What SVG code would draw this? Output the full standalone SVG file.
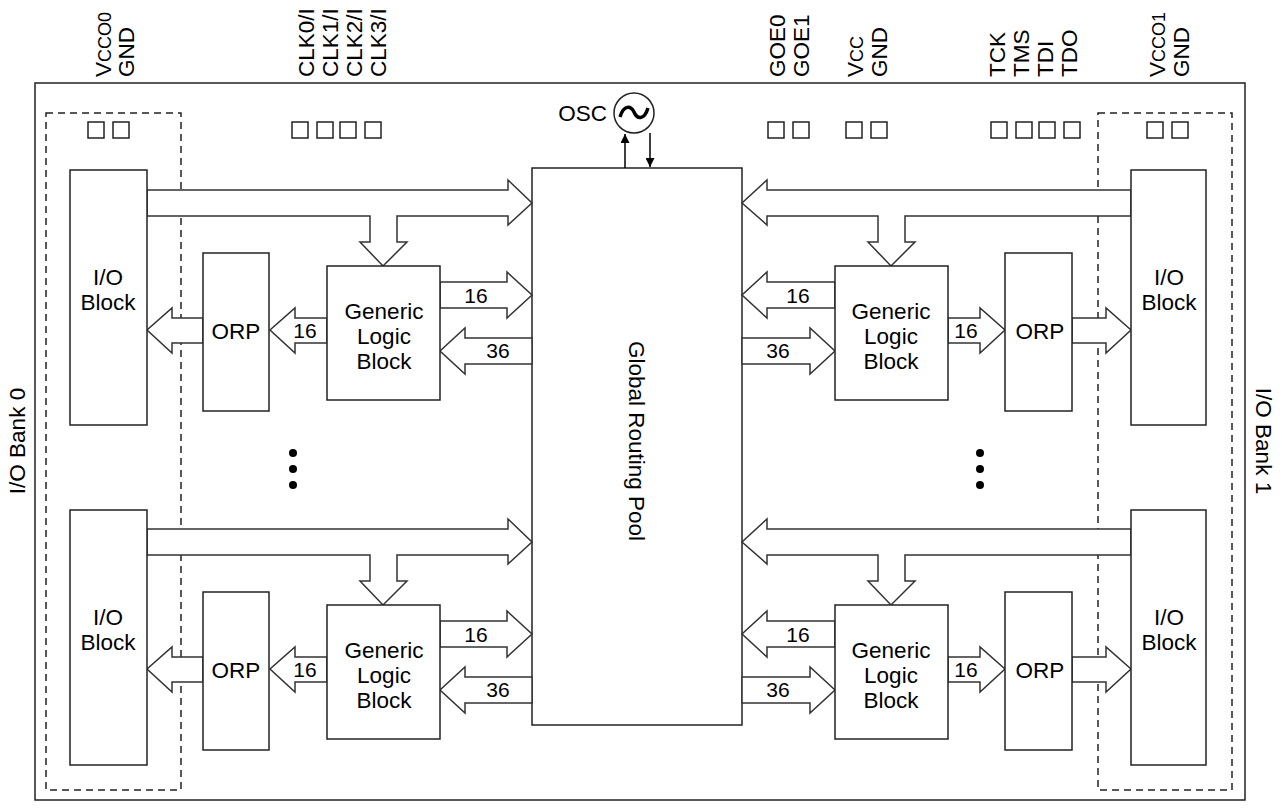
<svg xmlns="http://www.w3.org/2000/svg" width="1282" height="811" viewBox="0 0 1282 811">
<style>
.b{fill:#fff;stroke:#222;stroke-width:1.5}
.a{fill:#fff;stroke:#333;stroke-width:1.5}
.d{fill:none;stroke:#222;stroke-width:1.5;stroke-dasharray:7,5}
.sq{fill:#fff;stroke:#222;stroke-width:1.5}
text{font-family:"Liberation Sans",Arial,sans-serif;font-size:22.5px;fill:#000}
.c{text-anchor:middle}
.p{font-size:22.5px}
.n{font-size:21px}
</style>
<defs>
<marker id="ah" viewBox="0 0 10 10" refX="10" refY="5" markerWidth="6" markerHeight="6" orient="auto"><path d="M0,0 L10,5 L0,10 z" fill="#000"/></marker>
<g id="sqs2"><rect class="sq" x="0" y="0" width="16" height="16"/><rect class="sq" x="25" y="0" width="16" height="16"/></g>
</defs>
<rect class="b" x="35" y="83" width="1210" height="717"/>
<rect class="d" x="46" y="113" width="135" height="677"/>
<rect class="d" x="1098" y="113" width="134" height="677"/>
<g id="pins">
<use href="#sqs2" x="88" y="122"/>
<use href="#sqs2" x="292" y="122"/><use href="#sqs2" x="340" y="122"/>
<use href="#sqs2" x="768" y="122"/>
<use href="#sqs2" x="846" y="122"/>
<use href="#sqs2" x="991" y="122"/><use href="#sqs2" x="1039" y="122"/>
<use href="#sqs2" x="1147" y="122"/>
</g>
<g id="pinlabels">
<text transform="translate(111,77) rotate(-90)" class="p">V<tspan font-size="18">CCO0</tspan></text>
<text transform="translate(134,77) rotate(-90)" class="p">GND</text>
<text transform="translate(314,77) rotate(-90)" class="p">CLK0/I</text>
<text transform="translate(338,77) rotate(-90)" class="p">CLK1/I</text>
<text transform="translate(362,77) rotate(-90)" class="p">CLK2/I</text>
<text transform="translate(386,77) rotate(-90)" class="p">CLK3/I</text>
<text transform="translate(785,77) rotate(-90)" class="p">GOE0</text>
<text transform="translate(809,77) rotate(-90)" class="p">GOE1</text>
<text transform="translate(863,77) rotate(-90)" class="p">V<tspan font-size="18">CC</tspan></text>
<text transform="translate(887,77) rotate(-90)" class="p">GND</text>
<text transform="translate(1005,77) rotate(-90)" class="p">TCK</text>
<text transform="translate(1029,77) rotate(-90)" class="p">TMS</text>
<text transform="translate(1053,77) rotate(-90)" class="p">TDI</text>
<text transform="translate(1077,77) rotate(-90)" class="p">TDO</text>
<text transform="translate(1165,77) rotate(-90)" class="p">V<tspan font-size="18">CCO1</tspan></text>
<text transform="translate(1189,77) rotate(-90)" class="p">GND</text>
</g>
<text class="c" transform="translate(25,441) rotate(-90)">I/O Bank 0</text>
<text class="c" transform="translate(1256,441) rotate(90)">I/O Bank 1</text>
<g id="osc">
<circle cx="634" cy="113" r="20" class="b"/>
<path d="M620,117 C624,104 631,106 634,112 C637,119 644,121 648,108" fill="none" stroke="#000" stroke-width="3.5"/>
<text x="607" y="121" text-anchor="end">OSC</text>
</g>
<g id="grp"><rect class="b" x="532" y="168" width="210" height="557"/>
<text class="c" transform="translate(629,441) rotate(90)">Global Routing Pool</text></g>
<g id="connectors">
<line x1="625" y1="168" x2="625" y2="134" stroke="#000" stroke-width="1.5" marker-end="url(#ah)"/>
<line x1="650" y1="133" x2="650" y2="167" stroke="#000" stroke-width="1.5" marker-end="url(#ah)"/>
<g id="arrTop">
<polygon class="a" points="147,190 508,190 508,180 532,203 508,225 508,216 397,216 397,242 407,242 383,266 360,242 370,242 370,216 147,216"/>
<polygon class="a" points="440,282 507,282 507,272 532,295 507,318 507,308 440,308"/>
<polygon class="a" points="532,338 465,338 465,328 440,351 465,374 465,364 532,364"/>
<polygon class="a" points="327,318 295,318 295,308 270,330 295,353 295,343 327,343"/>
<polygon class="a" points="203,318 172,318 172,308 147,330 172,353 172,343 203,343"/>
<polygon class="a" points="1131,190 767,190 767,180 742,203 767,225 767,216 878,216 878,242 868,242 891,266 915,242 905,242 905,216 1131,216"/>
<polygon class="a" points="835,282 767,282 767,272 742,295 767,318 767,308 835,308"/>
<polygon class="a" points="742,338 810,338 810,328 835,351 810,374 810,364 742,364"/>
<polygon class="a" points="948,318 980,318 980,308 1005,330 980,353 980,343 948,343"/>
<polygon class="a" points="1072,318 1106,318 1106,308 1131,330 1106,353 1106,343 1072,343"/>
<text x="476" y="303" class="c n">16</text>
<text x="305" y="338" class="c n">16</text>
<text x="498" y="358" class="c n">36</text>
<text x="798" y="303" class="c n">16</text>
<text x="778" y="358" class="c n">36</text>
<text x="966" y="338" class="c n">16</text>
</g>
<use href="#arrTop" y="339"/>
</g>
<g id="io0"><rect class="b" x="70" y="170" width="77" height="255"/><text x="108" y="285" class="c">I/O</text><text x="108" y="310" class="c">Block</text></g>
<g id="orp0"><rect class="b" x="203" y="253" width="66" height="158"/><text x="236" y="339" class="c">ORP</text></g>
<g id="glb0"><rect class="b" x="327" y="266" width="113" height="134"/><text x="384" y="319" class="c">Generic</text><text x="384" y="344" class="c">Logic</text><text x="384" y="369" class="c">Block</text></g>
<g id="io1"><rect class="b" x="1131" y="170" width="75" height="255"/><text x="1169" y="285" class="c">I/O</text><text x="1169" y="310" class="c">Block</text></g>
<g id="orp1"><rect class="b" x="1005" y="253" width="67" height="158"/><text x="1040" y="339" class="c">ORP</text></g>
<g id="glb1"><rect class="b" x="835" y="266" width="113" height="134"/><text x="891" y="319" class="c">Generic</text><text x="891" y="344" class="c">Logic</text><text x="891" y="369" class="c">Block</text></g>
<g id="io2"><rect class="b" x="70" y="510" width="77" height="255"/><text x="108" y="625" class="c">I/O</text><text x="108" y="650" class="c">Block</text></g>
<g id="orp2"><rect class="b" x="203" y="592" width="66" height="158"/><text x="236" y="678" class="c">ORP</text></g>
<g id="glb2"><rect class="b" x="327" y="605" width="113" height="134"/><text x="384" y="658" class="c">Generic</text><text x="384" y="683" class="c">Logic</text><text x="384" y="708" class="c">Block</text></g>
<g id="io3"><rect class="b" x="1131" y="510" width="75" height="255"/><text x="1169" y="625" class="c">I/O</text><text x="1169" y="650" class="c">Block</text></g>
<g id="orp3"><rect class="b" x="1005" y="592" width="67" height="158"/><text x="1040" y="678" class="c">ORP</text></g>
<g id="glb3"><rect class="b" x="835" y="605" width="113" height="134"/><text x="891" y="658" class="c">Generic</text><text x="891" y="683" class="c">Logic</text><text x="891" y="708" class="c">Block</text></g>
<g id="dots" fill="#000"><circle cx="293" cy="453" r="4"/><circle cx="293" cy="469" r="4"/><circle cx="293" cy="485" r="4"/><circle cx="980" cy="453" r="4"/><circle cx="980" cy="469" r="4"/><circle cx="980" cy="485" r="4"/></g>
</svg>
